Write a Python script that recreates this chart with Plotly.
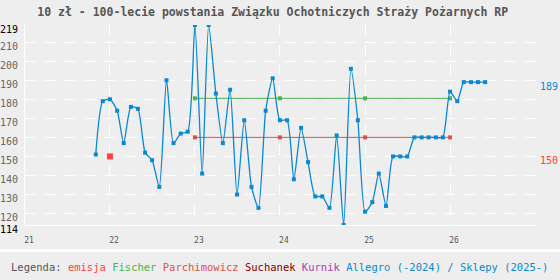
import plotly.graph_objects as go

# ---- data ----
months = ["2021-11","2021-12","2022-01","2022-02","2022-03","2022-04","2022-05","2022-06",
          "2022-07","2022-08","2022-09","2022-10","2022-11","2022-12","2023-01","2023-02",
          "2023-03","2023-04","2023-05","2023-06","2023-07","2023-08","2023-09","2023-10",
          "2023-11","2023-12","2024-01","2024-02","2024-03","2024-04","2024-05","2024-06",
          "2024-07","2024-08","2024-09","2024-10","2024-11","2024-12","2025-01","2025-02",
          "2025-03","2025-04","2025-05","2025-06","2025-07","2025-08","2025-09","2025-10",
          "2025-11","2025-12","2026-01","2026-02","2026-03","2026-04","2026-05","2026-06"]
allegro = [151,179,180,174,157,176,175,152,148,134,190,157,162,163,219,141,219,183,157,185,
           130,169,134,123,174,191,169,169,138,165,147,129,129,123,161,114,196,169,121,126,
           141,124,150,150,150,160,160,160,160,160,184,179,189,189,189,189]
cat_dates = ["2023-01","2024-01","2025-01","2026-01"]
fischer = [180.5,180.5,180.5,180.5]
parchimowicz = [160,160,160,160]
emisja_date = ["2022-01"]
emisja = [150]
year_ticks = ["2021-01-01","2022-01-01","2023-01-01","2024-01-01","2025-01-01","2026-01-01"]
year_labels = ["21","22","23","24","25","26"]
y_ticks = [114,120,130,140,150,160,170,180,190,200,210,219]

C_BLUE = "#0a88d0"
C_GREEN = "#4cb34c"
C_PARCH = "#e0504a"
C_EMIS = "#ff4040"
C_SUCH = "#880000"
C_KURN = "#aa44aa"
BG = "#eeeeee"
MONO = "DejaVu Sans Mono"

fig = go.Figure()
fig.add_trace(go.Scatter(x=cat_dates, y=fischer, mode="lines+markers",
                         line=dict(color=C_GREEN, width=1),
                         marker=dict(symbol="square", size=4, color=C_GREEN)))
fig.add_trace(go.Scatter(x=cat_dates, y=parchimowicz, mode="lines+markers",
                         line=dict(color=C_PARCH, width=1),
                         marker=dict(symbol="square", size=4, color=C_PARCH)))
fig.add_trace(go.Scatter(x=months, y=allegro, mode="lines+markers",
                         line=dict(color=C_BLUE, width=1.3, shape="spline", smoothing=0.6),
                         marker=dict(symbol="square", size=4, color=C_BLUE)))
fig.add_trace(go.Scatter(x=emisja_date, y=emisja, mode="markers",
                         marker=dict(symbol="square", size=6, color=C_EMIS)))

def ytext(v):
    if v in (min(y_ticks), max(y_ticks)):
        return f"<span style='color:#000000'>{v}</span>"
    return str(v)

fig.update_layout(
    width=560, height=280,
    margin=dict(l=25, r=25, t=25, b=55),
    paper_bgcolor=BG, plot_bgcolor=BG,
    showlegend=False,
    font=dict(family=MONO, color="#666666", size=10),
    title=dict(text="<b>10 zł - 100-lecie powstania Związku Ochotniczych Straży Pożarnych RP</b>",
               x=0.487, xanchor="center", y=1 - 12/280, yanchor="middle",
               font=dict(family=MONO, size=11.5, color="#555555")),
    xaxis=dict(type="date", range=["2021-01-01", "2027-01-01"],
               tickvals=year_ticks, ticktext=year_labels,
               tickfont=dict(size=8, color="#555555"), ticklabelshift=4,
               ticklabelstandoff=7, automargin=False,
               showgrid=True, gridcolor="#ffffff", griddash="10px,10px", gridwidth=1,
               showline=True, linecolor="#ffffff", linewidth=1,
               zeroline=False, ticks=""),
    yaxis=dict(range=[min(allegro), max(allegro)],
               tickvals=y_ticks, ticktext=[ytext(v) for v in y_ticks],
               tickfont=dict(size=10, color="#666666"), ticklabelshift=4,
               ticklabelstandoff=4, automargin=False,
               showgrid=True, gridcolor="#ffffff", griddash="10px,10px", gridwidth=1,
               showline=True, linecolor="#ffffff", linewidth=1,
               zeroline=False, ticks=""),
)

# right-side value labels
fig.add_annotation(x=(559-25)/510, xref="paper", y=allegro[-1], yref="y",
                   text=str(allegro[-1]), showarrow=False, xanchor="right", yshift=-4,
                   borderpad=0,
                   font=dict(family=MONO, size=10, color=C_BLUE))
fig.add_annotation(x=(559-25)/510, xref="paper", y=emisja[0], yref="y",
                   text=str(emisja[0]), showarrow=False, xanchor="right", yshift=-4,
                   borderpad=0,
                   font=dict(family=MONO, size=10, color=C_EMIS))

# separator band
fig.add_shape(type="line", xref="paper", yref="paper", x0=-0.1, x1=1.1,
              y0=-(250.5-225)/200, y1=-(250.5-225)/200,
              line=dict(color="#ffffff", width=3))

legend_txt = ("Legenda: "
              f"<span style='color:{C_EMIS}'>emisja</span> "
              f"<span style='color:{C_GREEN}'>Fischer</span> "
              f"<span style='color:{C_PARCH}'>Parchimowicz</span> "
              f"<span style='color:{C_SUCH}'>Suchanek</span> "
              f"<span style='color:{C_KURN}'>Kurnik</span> "
              f"<span style='color:{C_BLUE}'>Allegro (-2024) / Sklepy (2025-)</span>")
fig.add_annotation(x=(279.5-25)/510, xref="paper", y=-(267-225)/200, yref="paper",
                   text=legend_txt, showarrow=False, xanchor="center", yanchor="middle",
                   borderpad=0,
                   font=dict(family=MONO, size=10.5, color="#555555"))

fig.write_html("out.html")
